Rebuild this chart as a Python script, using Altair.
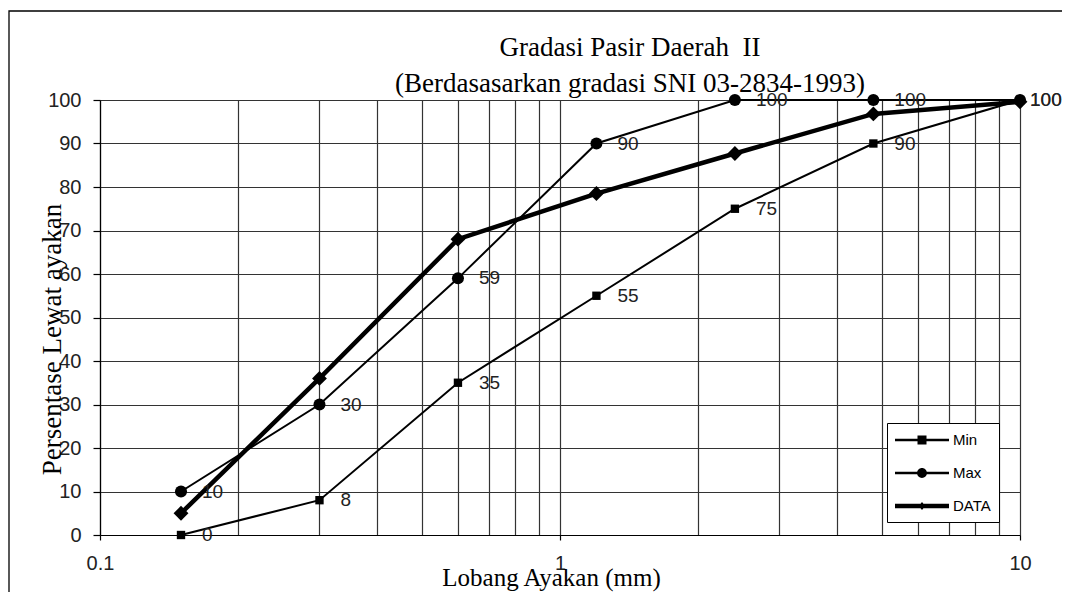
import altair as alt
import pandas as pd

# ---- data ----
sieve = [0.15, 0.3, 0.6, 1.2, 2.4, 4.8, 10]
min_vals = [0, 8, 35, 55, 75, 90, 100]
max_vals = [10, 30, 59, 90, 100, 100, 100]
data_vals = [5, 36, 68, 78.5, 87.7, 96.8, 99.6]
series_names = ["Min", "Max", "DATA"]

x_grid_values = [0.1, 0.2, 0.3, 0.4, 0.5, 0.6, 0.7, 0.8, 0.9,
                 1, 2, 3, 4, 5, 6, 7, 8, 9, 10]
x_label_values = [0.1, 1, 10]
y_tick_values = [0, 10, 20, 30, 40, 50, 60, 70, 80, 90, 100]

title_lines = ["Gradasi Pasir Daerah\u00a0 II", "(Berdasasarkan gradasi SNI 03-2834-1993)"]
x_title = "Lobang Ayakan (mm)"
y_title = "Persentase Lewat ayakan"

rows = []
for name, vals in zip(series_names, [min_vals, max_vals, data_vals]):
    for s, v in zip(sieve, vals):
        rows.append({"series": name, "sieve": s, "pct": v})
df = pd.DataFrame(rows)

SERIF = "Liberation Serif"
SANS = "Liberation Sans"
GRID = "#333333"

label_test = " || ".join(f"datum.value == {v}" for v in x_label_values)

x_enc = alt.X(
    "sieve:Q",
    scale=alt.Scale(type="log", domain=[0.1, 10], nice=False),
    axis=alt.Axis(
        values=x_grid_values, format="~g",
        labelExpr=f"({label_test}) ? datum.label : ''",
        grid=True, gridColor=GRID, gridWidth=1.2, gridOpacity=1,
        tickSize=5, tickColor="black", tickWidth=1.2,
        tickOpacity={"condition": {"test": label_test, "value": 1}, "value": 0},
        domainColor="black", domainWidth=1.2,
        labelFont=SANS, labelFontSize=20, labelColor="#222222", labelPadding=13,
        labelOverlap=False, labelFlush=False, labelBound=False,
        title=x_title, titleFont=SERIF, titleFontSize=25, titleFontWeight="normal",
        titleColor="black", titleX=451, titleY=50, titleBaseline="alphabetic",
        titleAlign="center",
    ),
)
y_enc = alt.Y(
    "pct:Q",
    scale=alt.Scale(domain=[0, 100], nice=False),
    axis=alt.Axis(
        values=y_tick_values, grid=True, gridColor=GRID, gridWidth=1.2, gridOpacity=1,
        tickSize=7, tickColor="black", tickWidth=1.2,
        domainColor="black", domainWidth=1.2,
        labelFont=SANS, labelFontSize=20, labelColor="#222222", labelPadding=12,
        title=y_title, titleFont=SERIF, titleFontSize=27, titleFontWeight="normal",
        titleColor="black", titleAngle=270, titleX=-48, titleY=239,
        titleBaseline="middle", titleAlign="center",
    ),
)

base = alt.Chart(df)

lines_thin = base.transform_filter(
    alt.FieldOneOfPredicate(field="series", oneOf=["Min", "Max"])
).mark_line(color="black", strokeWidth=2).encode(
    x=x_enc, y=y_enc, detail="series:N", order="sieve:Q",
)
lines_data = base.transform_filter(
    alt.FieldEqualPredicate(field="series", equal="DATA")
).mark_line(color="black", strokeWidth=4.5).encode(
    x="sieve:Q", y="pct:Q", order="sieve:Q",
)

points = base.mark_point(filled=True, color="black", opacity=1).encode(
    x="sieve:Q", y="pct:Q",
    shape=alt.Shape("series:N", scale=alt.Scale(domain=series_names, range=["square", "circle", "diamond"]), legend=None),
    size=alt.Size("series:N", scale=alt.Scale(domain=series_names, range=[70, 220, 150]), legend=None),
)

label_base = base.transform_filter(alt.FieldOneOfPredicate(field="series", oneOf=["Min", "Max"]))
labels = label_base.transform_filter(f"datum.sieve < {max(sieve)}").mark_text(
    align="left", baseline="middle", dx=21, font=SANS, fontSize=19, color="#222222"
).encode(x="sieve:Q", y="pct:Q", text="pct:Q")
labels_end = label_base.transform_filter(f"datum.sieve >= {max(sieve)}").mark_text(
    align="left", baseline="middle", dx=10, font=SANS, fontSize=19, color="#222222"
).encode(x="sieve:Q", y="pct:Q", text="pct:Q")

# legend symbols: line + marker, path units of 9 px (symbol size 324)
legend_paths = [
    "M-3,-0.15H3V0.15H-3Z M-0.5,-0.5H0.5V0.5H-0.5Z",
    "M-3,-0.15H3V0.15H-3Z M-0.55,0A0.55,0.55 0 1,1 0.55,0A0.55,0.55 0 1,1 -0.55,0Z",
    "M-3,-0.25H3V0.25H-3Z M0,-0.45L0.36,0L0,0.45L-0.36,0Z",
]
legend_layer = base.transform_filter("false").mark_point(
    filled=True, color="black", size=324, opacity=1
).encode(
    x="sieve:Q", y="pct:Q",
    shape=alt.Shape(
        "series:N",
        scale=alt.Scale(domain=series_names, range=legend_paths),
        legend=alt.Legend(
            orient="none", legendX=787, legendY=323, title=None,
            padding=8, strokeColor="black", fillColor="white",
            labelFont=SANS, labelFontSize=15, labelColor="black",
            rowPadding=16, labelOffset=22, symbolOffset=18, symbolSize=324,
            symbolFillColor="black", symbolStrokeWidth=0, symbolOpacity=1,
        ),
    ),
)

frame = alt.Chart(alt.Data(values=[{"f": 1}])).mark_rect(
    fillOpacity=0, stroke="black", strokeWidth=1.3
).encode(
    x=alt.value(-91), x2=alt.value(1200), y=alt.value(-89), y2=alt.value(800)
)

chart = alt.layer(frame, lines_thin, lines_data, points, labels, labels_end, legend_layer).resolve_scale(
    shape="independent", size="independent"
).properties(
    width=920, height=435,
    autosize=alt.AutoSizeParams(type="none"),
    padding={"left": 92, "top": 92, "right": 42, "bottom": 57},
    background="white",
    title=alt.TitleParams(
        text=title_lines, font=SERIF, fontSize=27, fontWeight="normal",
        lineHeight=36, anchor="middle", frame="group", dx=70, offset=-88, color="black",
    ),
).configure_view(strokeWidth=0)

chart.save("out.html", embed_options={"renderer": "svg", "actions": False})
